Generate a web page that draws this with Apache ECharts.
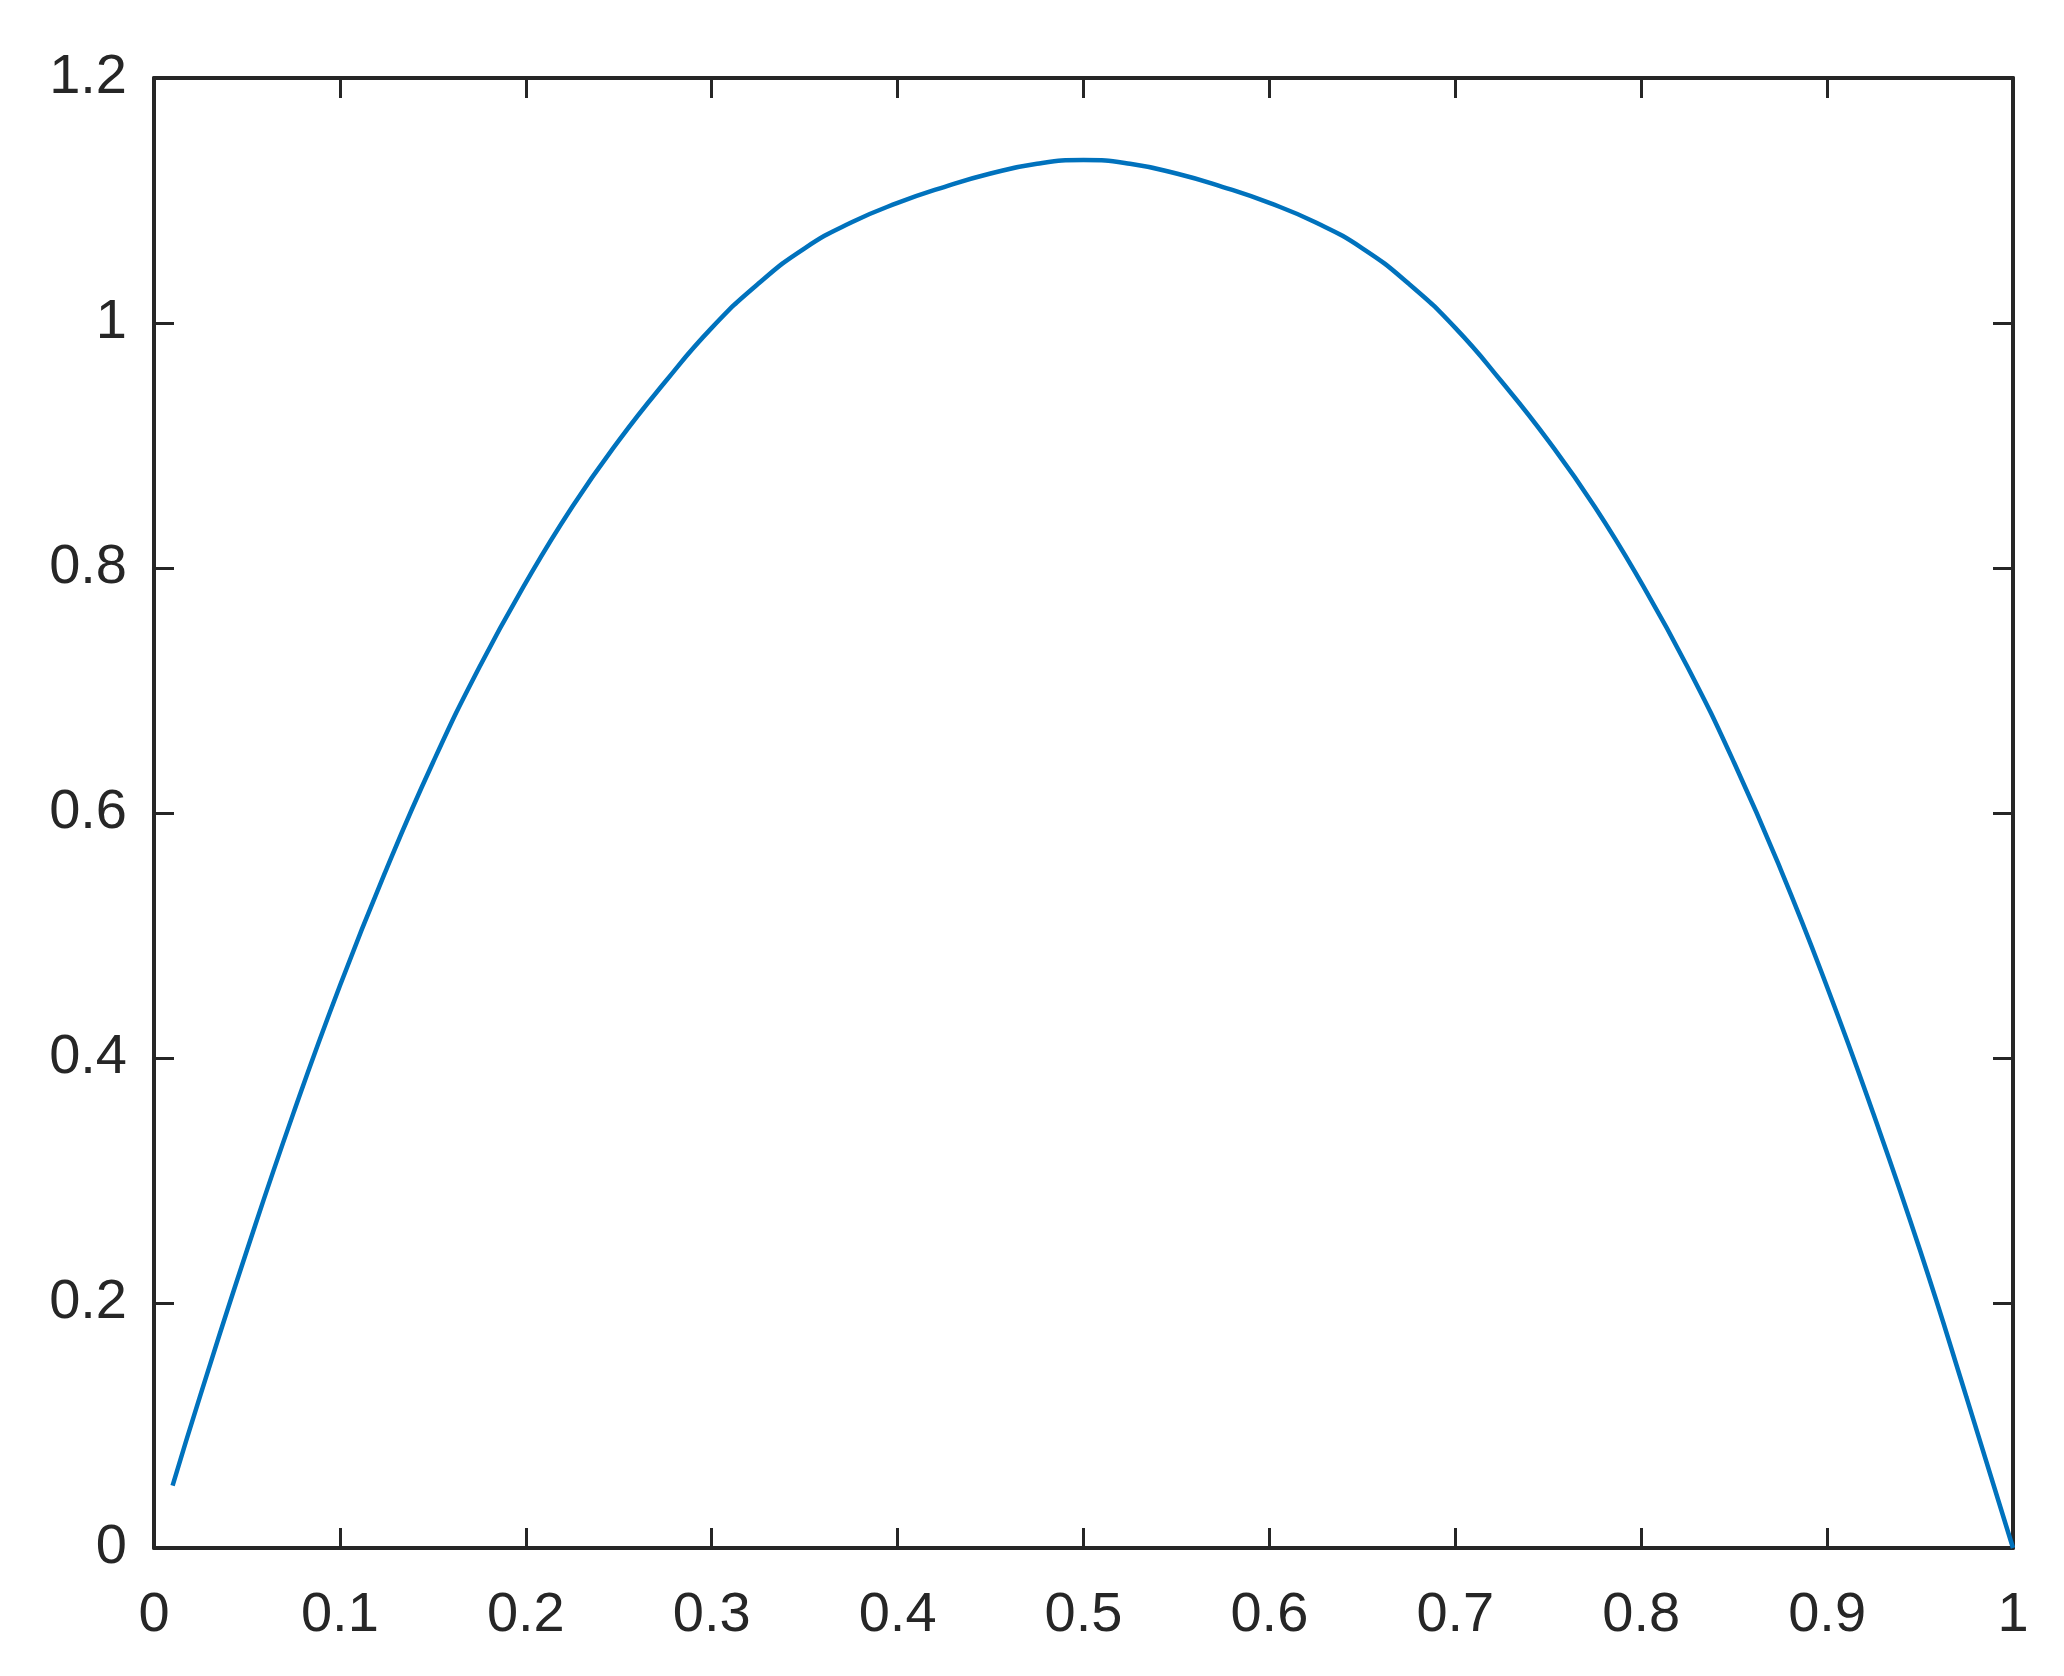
<!DOCTYPE html>
<html>
<head>
<meta charset="utf-8">
<script src="https://cdn.jsdelivr.net/npm/echarts@6/dist/echarts.min.js"></script>
<style>
html,body{margin:0;padding:0;background:#fff;}
#chart{width:2064px;height:1676px;}
</style>
</head>
<body>
<div id="chart"></div>
<script>
const xValues = [0.01, 0.025, 0.05, 0.075, 0.1, 0.125, 0.15, 0.175, 0.2, 0.225, 0.25, 0.275, 0.3, 0.325, 0.35, 0.375, 0.4, 0.425, 0.45, 0.475, 0.5,
                 0.525, 0.55, 0.575, 0.6, 0.625, 0.65, 0.675, 0.7, 0.725, 0.75, 0.775, 0.8, 0.825, 0.85, 0.875, 0.9, 0.925, 0.95, 0.975, 1.0];
const yValues = [0.051, 0.125, 0.243, 0.355, 0.459, 0.554, 0.641, 0.719, 0.788, 0.850, 0.904, 0.952, 0.996, 1.032, 1.061, 1.082, 1.098, 1.111, 1.122, 1.130, 1.133,
                 1.130, 1.122, 1.111, 1.098, 1.082, 1.061, 1.032, 0.996, 0.952, 0.904, 0.850, 0.788, 0.719, 0.641, 0.554, 0.458, 0.354, 0.243, 0.123, 0.0];

const axisColor = '#262626';
const labelFont = { fontFamily: 'Liberation Sans, Arial, Helvetica, sans-serif', fontSize: 56, color: axisColor };

const chart = echarts.init(document.getElementById('chart'), null, { renderer: 'canvas' });
const common = {
  type: 'value',
  splitLine: { show: false },
  axisLine: { show: true, onZero: false, lineStyle: { color: axisColor, width: 4 } },
  axisTick: { show: true, inside: true, length: 20, lineStyle: { color: axisColor, width: 3 } }
};
chart.setOption({
  animation: false,
  backgroundColor: '#ffffff',
  grid: { left: 154, top: 78, width: 1859, height: 1470, containLabel: false },
  xAxis: [
    Object.assign({}, common, { position: 'bottom', min: 0, max: 1, interval: 0.1,
      axisLabel: Object.assign({ margin: 40 }, labelFont) }),
    Object.assign({}, common, { position: 'top', min: 0, max: 1, interval: 0.1,
      axisLabel: { show: false } })
  ],
  yAxis: [
    Object.assign({}, common, { position: 'left', min: 0, max: 1.2, interval: 0.2,
      axisLabel: Object.assign({ margin: 27 }, labelFont) }),
    Object.assign({}, common, { position: 'right', min: 0, max: 1.2, interval: 0.2,
      axisLabel: { show: false } })
  ],
  series: [{
    type: 'line',
    xAxisIndex: 0,
    yAxisIndex: 0,
    data: xValues.map((x, i) => [x, yValues[i]]),
    smooth: 0.5,
    showSymbol: false,
    lineStyle: { color: '#0072BD', width: 4.5 },
    clip: false
  }]
});
</script>
</body>
</html>
